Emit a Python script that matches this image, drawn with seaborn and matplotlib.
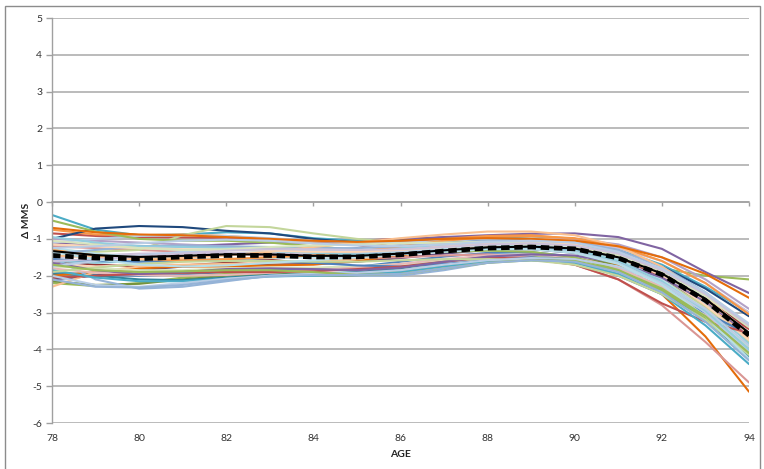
import matplotlib
matplotlib.use("Agg")
import matplotlib.pyplot as plt
import pandas as pd
import seaborn as sns
from matplotlib.patches import Rectangle

AGES = list(range(78, 95))
MEAN = [-1.45, -1.52, -1.54, -1.49, -1.45, -1.45, -1.49, -1.49, -1.43, -1.33, -1.25, -1.22, -1.27, -1.52, -1.97, -2.67, -3.62]
MEAN_FIT = [-1.33, -1.44, -1.49, -1.46, -1.42, -1.42, -1.46, -1.46, -1.40, -1.31, -1.23, -1.21, -1.26, -1.50, -1.94, -2.63, -3.55]

c01 = [-1.90, -1.98, -2.00, -1.96, -1.90, -1.85, -1.80, -1.76, -1.62, -1.48, -1.38, -1.36, -1.48, -1.80, -2.30, -2.95, -3.75]
c02 = [-0.85, -0.92, -0.95, -0.96, -0.97, -1.02, -1.10, -1.05, -1.00, -0.96, -0.95, -1.02, -1.20, -1.55, -2.05, -2.70, -3.45]
c03 = [-2.20, -2.28, -2.20, -2.05, -1.95, -1.92, -1.95, -1.96, -1.85, -1.70, -1.60, -1.55, -1.55, -1.62, -1.80, -2.00, -2.10]
c04 = [-1.10, -1.15, -1.20, -1.20, -1.15, -1.10, -1.10, -1.08, -1.02, -0.95, -0.90, -0.86, -0.85, -0.95, -1.27, -1.90, -2.47]
c05 = [-0.35, -0.75, -0.90, -0.88, -0.82, -0.85, -0.98, -1.05, -1.05, -1.00, -0.95, -0.95, -1.05, -1.30, -1.70, -2.30, -3.00]
c06 = [-0.75, -0.88, -0.90, -0.88, -0.92, -1.00, -1.12, -1.15, -1.10, -1.00, -0.92, -0.90, -1.00, -1.30, -1.85, -2.70, -3.80]
c07 = [-1.00, -0.72, -0.65, -0.68, -0.78, -0.85, -1.00, -1.10, -1.12, -1.10, -1.05, -1.05, -1.12, -1.35, -1.75, -2.35, -3.10]
c08 = [-1.60, -1.70, -1.75, -1.72, -1.65, -1.55, -1.45, -1.25, -1.05, -1.00, -1.00, -1.05, -1.20, -1.50, -2.00, -2.65, -3.40]
c09 = [-2.15, -2.25, -2.22, -2.10, -2.00, -1.95, -1.98, -2.00, -1.90, -1.72, -1.58, -1.50, -1.52, -1.70, -2.10, -2.80, -3.70]
c10 = [-2.10, -2.00, -1.85, -1.75, -1.70, -1.68, -1.68, -1.62, -1.52, -1.40, -1.30, -1.28, -1.38, -1.65, -2.10, -2.75, -3.55]
c11 = [-1.95, -2.00, -2.10, -2.12, -2.05, -1.98, -1.95, -1.90, -1.80, -1.62, -1.48, -1.42, -1.50, -1.82, -2.40, -3.20, -4.20]
c12 = [-2.00, -1.90, -1.80, -1.75, -1.75, -1.72, -1.70, -1.60, -1.45, -1.30, -1.20, -1.18, -1.30, -1.70, -2.50, -3.65, -5.15]
c13 = [-1.50, -2.10, -2.35, -2.30, -2.15, -2.00, -1.95, -2.00, -2.00, -1.85, -1.65, -1.52, -1.55, -1.80, -2.30, -3.10, -4.10]
c14 = [-1.20, -1.25, -1.30, -1.35, -1.40, -1.45, -1.50, -1.52, -1.50, -1.45, -1.42, -1.50, -1.70, -2.10, -2.80, -3.80, -4.90]
c15 = [-1.30, -1.35, -1.30, -0.90, -0.65, -0.68, -0.85, -1.00, -1.10, -1.15, -1.15, -1.18, -1.30, -1.60, -2.10, -2.85, -3.80]
c16 = [-1.00, -1.05, -1.10, -1.15, -1.20, -1.25, -1.30, -1.32, -1.25, -1.15, -1.05, -1.00, -1.00, -1.15, -1.50, -2.10, -2.90]
c17 = [-1.60, -1.65, -1.60, -1.50, -1.40, -1.35, -1.35, -1.30, -1.25, -1.15, -1.08, -1.05, -1.12, -1.40, -1.95, -2.75, -3.85]
c18 = [-2.30, -1.90, -1.75, -1.70, -1.68, -1.65, -1.62, -1.55, -1.40, -1.20, -1.05, -0.98, -1.05, -1.35, -1.90, -2.70, -3.70]
c19 = [-1.10, -1.00, -0.92, -0.90, -0.92, -0.98, -1.05, -1.10, -1.10, -1.05, -1.00, -1.00, -1.08, -1.35, -1.85, -2.60, -3.55]
c20 = [-1.70, -1.75, -1.70, -1.62, -1.55, -1.50, -1.50, -1.45, -1.35, -1.22, -1.12, -1.08, -1.15, -1.45, -2.00, -2.80, -3.75]
c21 = [-1.75, -1.80, -1.85, -1.85, -1.80, -1.78, -1.78, -1.75, -1.68, -1.60, -1.55, -1.55, -1.60, -1.85, -2.30, -3.00, -3.95]
c22 = [-1.50, -1.45, -1.40, -1.38, -1.38, -1.40, -1.42, -1.40, -1.32, -1.20, -1.10, -1.05, -1.08, -1.25, -1.60, -2.20, -3.00]
c23 = [-1.25, -1.40, -1.50, -1.55, -1.55, -1.52, -1.50, -1.45, -1.35, -1.25, -1.18, -1.15, -1.25, -1.55, -2.10, -2.95, -4.00]
c24 = [-1.80, -1.92, -1.98, -2.00, -1.98, -1.92, -1.85, -1.78, -1.68, -1.55, -1.45, -1.42, -1.50, -1.78, -2.30, -3.05, -4.00]
c25 = [-1.55, -1.60, -1.62, -1.60, -1.58, -1.60, -1.65, -1.72, -1.75, -1.68, -1.58, -1.50, -1.62, -2.00, -2.50, -3.00, -3.60]
c26 = [-0.50, -0.80, -1.00, -1.05, -1.05, -1.10, -1.20, -1.30, -1.35, -1.35, -1.32, -1.35, -1.50, -1.85, -2.40, -3.15, -4.00]
c27 = [-2.05, -2.00, -1.95, -1.92, -1.90, -1.90, -1.88, -1.82, -1.75, -1.62, -1.50, -1.55, -1.70, -2.10, -2.75, -3.25, -3.55]
c28 = [-1.30, -1.45, -1.55, -1.58, -1.55, -1.50, -1.45, -1.35, -1.20, -1.05, -0.95, -0.92, -0.98, -1.20, -1.60, -2.20, -3.05]
c29 = [-1.65, -1.85, -1.95, -1.90, -1.82, -1.80, -1.82, -1.85, -1.78, -1.62, -1.48, -1.42, -1.45, -1.65, -2.05, -2.70, -3.60]
c30 = [-1.85, -2.05, -2.15, -2.15, -2.08, -2.02, -2.00, -1.98, -1.90, -1.75, -1.62, -1.58, -1.65, -1.95, -2.50, -3.35, -4.40]
c31 = [-1.40, -1.30, -1.20, -1.18, -1.20, -1.22, -1.25, -1.25, -1.20, -1.12, -1.05, -1.02, -1.08, -1.30, -1.75, -2.45, -3.35]
c32 = [-1.45, -1.50, -1.55, -1.52, -1.45, -1.35, -1.22, -1.10, -0.98, -0.88, -0.80, -0.80, -0.90, -1.20, -1.75, -2.55, -3.60]
c33 = [-1.75, -1.60, -1.45, -1.35, -1.30, -1.30, -1.32, -1.35, -1.35, -1.30, -1.25, -1.25, -1.35, -1.65, -2.20, -3.00, -4.05]
c34 = [-0.95, -1.10, -1.20, -1.22, -1.25, -1.30, -1.38, -1.42, -1.40, -1.32, -1.25, -1.22, -1.30, -1.60, -2.15, -2.95, -4.00]
c35 = [-1.90, -1.78, -1.68, -1.62, -1.60, -1.60, -1.62, -1.62, -1.58, -1.55, -1.55, -1.58, -1.70, -2.00, -2.50, -3.20, -4.15]
c36 = [-1.15, -1.20, -1.25, -1.28, -1.30, -1.32, -1.35, -1.35, -1.30, -1.22, -1.15, -1.12, -1.18, -1.45, -1.95, -2.65, -3.55]
c37 = [-2.00, -2.25, -2.30, -2.20, -2.08, -2.00, -1.95, -1.92, -1.85, -1.70, -1.58, -1.52, -1.55, -1.75, -2.20, -2.90, -3.90]
c38 = [-1.05, -1.15, -1.25, -1.30, -1.28, -1.22, -1.18, -1.15, -1.12, -1.10, -1.08, -1.10, -1.20, -1.45, -1.90, -2.55, -3.40]
c39 = [-0.70, -0.82, -0.88, -0.90, -0.95, -1.00, -1.05, -1.08, -1.05, -1.00, -0.98, -1.00, -1.05, -1.20, -1.50, -1.95, -2.60]
c40 = [-1.60, -1.55, -1.48, -1.40, -1.32, -1.28, -1.28, -1.30, -1.28, -1.22, -1.15, -1.12, -1.18, -1.40, -1.85, -2.50, -3.35]
c41 = [-1.35, -1.55, -1.70, -1.75, -1.72, -1.65, -1.58, -1.50, -1.42, -1.35, -1.28, -1.28, -1.38, -1.68, -2.25, -3.10, -4.25]
c42 = [-1.70, -1.85, -1.90, -1.88, -1.85, -1.85, -1.90, -1.98, -1.95, -1.80, -1.65, -1.58, -1.60, -1.85, -2.35, -3.10, -4.10]
c43 = [-1.25, -1.20, -1.12, -1.05, -1.02, -1.05, -1.12, -1.18, -1.20, -1.15, -1.08, -1.05, -1.10, -1.35, -1.80, -2.45, -3.30]
c44 = [-2.10, -2.30, -2.32, -2.25, -2.12, -2.02, -1.98, -1.98, -1.95, -1.80, -1.65, -1.58, -1.62, -1.90, -2.45, -3.25, -4.30]

SERIES = [c01, c02, c03, c04, c05, c06, c07, c08, c09, c10, c11, c12, c13, c14, c15,
          c16, c17, c18, c19, c20, c21, c22, c23, c24, c25, c26, c27, c28, c29, c30,
          c31, c32, c33, c34, c35, c36, c37, c38, c39, c40, c41, c42, c43, c44]

COLORS = ["#4F81BD", "#C0504D", "#9BBB59", "#8064A2", "#4BACC6", "#F79646",
          "#1F497D", "#953735", "#77933C", "#604A7B", "#31859C", "#E46C0A",
          "#95B3D7", "#D99694", "#C3D69B", "#B3A2C7", "#93CDDD", "#FAC090",
          "#B9CDE5", "#FCD5B5", "#D7E4BD", "#CCC1DA", "#B7DEE8", "#E6B9B8",
          "#4F81BD", "#9BBB59", "#C0504D", "#F79646", "#8064A2", "#4BACC6",
          "#95B3D7", "#FAC090", "#B9CDE5", "#93CDDD", "#C3D69B", "#FCD5B5",
          "#B9CDE5", "#D7E4BD", "#E46C0A", "#CCC1DA", "#B7DEE8", "#9BBB59",
          "#B9CDE5", "#95B3D7"]

X_TICKS = list(range(78, 95, 2))
Y_TICKS = list(range(-6, 6))

sns.set_theme(style="white")
plt.rcParams["font.family"] = ["Lato", "DejaVu Sans"]
plt.rcParams["axes.unicode_minus"] = False

W, H = 764, 469
fig = plt.figure(figsize=(W / 100, H / 100), dpi=100)
left, right, top, bottom = 52, 749, 18, 423
ax = fig.add_axes([left / W, 1 - bottom / H, (right - left) / W, (bottom - top) / H])

rows = []
for i, s in enumerate(SERIES):
    for a, v in zip(AGES, s):
        rows.append((a, v, f"s{i:02d}"))
df = pd.DataFrame(rows, columns=["age", "mms", "curve"])
sns.lineplot(data=df, x="age", y="mms", hue="curve", palette=COLORS,
             estimator=None, legend=False, lw=1.5, ax=ax)

fdf = pd.DataFrame({"age": AGES, "mms": MEAN_FIT})
sns.lineplot(data=fdf, x="age", y="mms", color="black", lw=1.5, ax=ax)
mdf = pd.DataFrame({"age": AGES, "mms": MEAN})
sns.lineplot(data=mdf, x="age", y="mms", color="black", lw=3.4, ax=ax)
ax.lines[-1].set_linestyle((0, (1.8, 1.0)))
ax.lines[-1].set_dash_capstyle("butt")

ax.set_xlim(78, 94)
ax.set_ylim(-6, 5)
ax.set_yticks(Y_TICKS)
ax.set_yticklabels([str(t) for t in Y_TICKS])
ax.grid(axis="y", color="#a8a8a8", lw=1.1)
ax.grid(axis="x", visible=False)
ax.set_axisbelow(True)

for sp in ["top", "right"]:
    ax.spines[sp].set_visible(False)
ax.spines["left"].set_color("#a0a0a0")
ax.spines["left"].set_linewidth(1.0)
ax.spines["bottom"].set_position(("data", 0))
ax.spines["bottom"].set_color("#a0a0a0")
ax.spines["bottom"].set_linewidth(1.1)

ax.set_xticks(X_TICKS)
ax.tick_params(axis="x", direction="out", length=3, width=1, color="#a0a0a0",
               labelbottom=False, bottom=True)
ax.tick_params(axis="y", direction="out", length=4, width=1, color="#a0a0a0",
               labelsize=7.5, labelcolor="#333333", pad=3, left=True)

sec = ax.secondary_xaxis("bottom")
sec.set_xticks(X_TICKS)
sec.set_xticklabels([str(t) for t in X_TICKS])
sec.tick_params(length=0, pad=8, labelsize=7.5, labelcolor="#333333")
sec.spines["bottom"].set_visible(False)

ax.set_xlabel("")
ax.set_ylabel("Δ MMS", fontsize=7.5, fontweight="bold", color="#222222")
ax.yaxis.set_label_coords(-0.03, 0.5)
fig.text((left + right) / 2 / W, 1 - 454 / H, "AGE", ha="center", va="center",
         fontsize=7.5, fontweight="bold", color="#222222")

fig.patches.append(Rectangle((5 / W, -0.1), (760 - 5) / W, 1 - 6 / H + 0.1,
                             transform=fig.transFigure, fill=False,
                             edgecolor="#8c8c8c", lw=1.0))

fig.savefig("out.png", dpi=100)
